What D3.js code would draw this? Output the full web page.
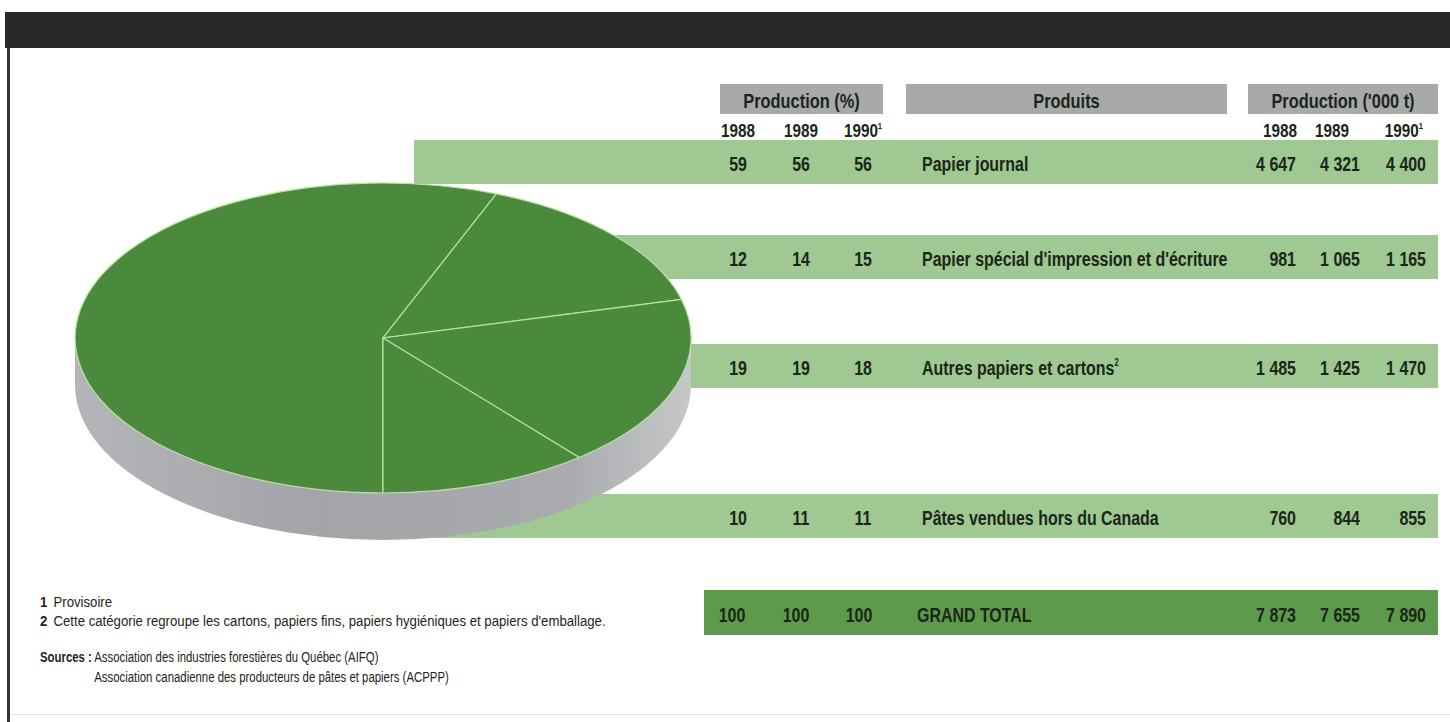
<!DOCTYPE html>
<html><head><meta charset="utf-8">
<script src="https://cdn.jsdelivr.net/npm/d3@7"></script>
<style>
html,body{margin:0;padding:0;background:#fff;}
svg{display:block;}
text{font-family:"Liberation Sans","Arial",sans-serif;}
</style></head>
<body>
<svg id="chart" width="1450" height="722"></svg>
<script>
// ---------- data ----------
const products = ["Papier journal", "Papier spécial d'impression et d'écriture", "Autres papiers et cartons", "Pâtes vendues hors du Canada"];
const productNotes = ["", "", "2", ""];
const years = ["1988", "1989", "1990"];
const yearNotes = ["", "", "1"];
const pct1988 = [59, 12, 19, 10];
const pct1989 = [56, 14, 19, 11];
const pct1990 = [56, 15, 18, 11];
const prod1988 = [4647, 981, 1485, 760];
const prod1989 = [4321, 1065, 1425, 844];
const prod1990 = [4400, 1165, 1470, 855];
const totalLabel = "GRAND TOTAL";
const totalPct = [100, 100, 100];
const totalProd = [7873, 7655, 7890];
const headers = ["Production (%)", "Produits", "Production ('000 t)"];
const footnotes = [["1", "Provisoire"], ["2", "Cette catégorie regroupe les cartons, papiers fins, papiers hygiéniques et papiers d'emballage."]];
const sourcesLabel = "Sources :";
const sources = ["Association des industries forestières du Québec (AIFQ)", "Association canadienne des producteurs de pâtes et papiers (ACPPP)"];

// ---------- layout ----------
const svg = d3.select("#chart");
const ink = "#1b2619";
const fr = d3.formatLocale({decimal: ",", thousands: " ", grouping: [3], currency: ["", ""]});
const fmt = v => fr.format(",d")(v);

const rowTops = [140, 235, 344, 494];
const rowH = 44;
const totalTop = 590, totalH = 45;
const barX0 = 414, barX1 = 1438, totalX0 = 704;
const pctX = [738, 801, 863];
const totalPctX = [732, 796, 859];
const prodRightX = [1296, 1360, 1426];
const yearProdRightX = [1297, 1349, 1418];
const prodX = 922;

// condensed text helper (horizontal squeeze of a regular face)
function txt(parent, x, y, str, o) {
  o = o || {};
  return parent.append("text")
    .attr("transform", `translate(${x},${y}) scale(${o.sx || 1},1)`)
    .attr("text-anchor", o.anchor || "start")
    .attr("font-size", o.size || 14)
    .attr("font-weight", o.weight || "normal")
    .attr("fill", o.fill || ink)
    .text(str);
}

// frame
svg.append("rect").attr("x", 5).attr("y", 12).attr("width", 1445).attr("height", 36).attr("fill", "#282828");
svg.append("rect").attr("x", 7).attr("y", 48).attr("width", 3).attr("height", 674).attr("fill", "#333");
svg.append("rect").attr("x", 10).attr("y", 714).attr("width", 1440).attr("height", 1).attr("fill", "#e4e4e4");

// header boxes
const hdr = [[720, 883], [906, 1227], [1248, 1438]];
hdr.forEach((h, i) => {
  svg.append("rect").attr("x", h[0]).attr("y", 84).attr("width", h[1] - h[0]).attr("height", 30).attr("fill", "#a8a9ab");
  txt(svg, (h[0] + h[1]) / 2, 108, headers[i], {anchor: "middle", size: 20, weight: "bold", sx: 0.82});
});

// year labels
years.forEach((y, i) => {
  const t = txt(svg, pctX[i], 137, y, {anchor: "middle", size: 18, weight: "bold", sx: 0.85});
  if (yearNotes[i]) t.append("tspan").attr("font-size", 9).attr("dy", -8).text(yearNotes[i]);
});
years.forEach((y, i) => {
  const t = txt(svg, yearProdRightX[i] + (yearNotes[i] ? 5 : 0), 137, y, {anchor: "end", size: 18, weight: "bold", sx: 0.85});
  if (yearNotes[i]) t.append("tspan").attr("font-size", 9).attr("dy", -8).text(yearNotes[i]);
});

// ---------- rows ----------
const pctSeries = [pct1988, pct1989, pct1990];
const prodSeries = [prod1988, prod1989, prod1990];
const rowFont = {size: 21, weight: "bold", sx: 0.76};
products.forEach((p, r) => {
  const y0 = rowTops[r];
  svg.append("rect").attr("x", barX0).attr("y", y0).attr("width", barX1 - barX0).attr("height", rowH).attr("fill", "#9fc892");
  const ty = y0 + 31;
  pctSeries.forEach((s, j) => txt(svg, pctX[j], ty, s[r], Object.assign({anchor: "middle"}, rowFont)));
  const t = txt(svg, prodX, ty, p, rowFont);
  if (productNotes[r]) t.append("tspan").attr("font-size", 10).attr("dy", -9).text(productNotes[r]);
  prodSeries.forEach((s, j) => txt(svg, prodRightX[j], ty, fmt(s[r]), Object.assign({anchor: "end"}, rowFont)));
});
// total row
svg.append("rect").attr("x", totalX0).attr("y", totalTop).attr("width", barX1 - totalX0).attr("height", totalH).attr("fill", "#5e9a4c");
{
  const ty = totalTop + 32;
  totalPct.forEach((v, j) => txt(svg, totalPctX[j], ty, v, Object.assign({anchor: "middle"}, rowFont)));
  txt(svg, prodX - 5, ty, totalLabel, rowFont);
  totalProd.forEach((v, j) => txt(svg, prodRightX[j], ty, fmt(v), Object.assign({anchor: "end"}, rowFont)));
}

// ---------- 3D pie (1990 shares) ----------
const cx = 383, cy = 338, rx = 308, ry = 155, depth = 47;
const defs = svg.append("defs");
const g1 = defs.append("linearGradient").attr("id", "side").attr("x1", "0").attr("x2", "1").attr("y1", "0").attr("y2", "0");
g1.append("stop").attr("offset", "0%").attr("stop-color", "#b3b5b8");
g1.append("stop").attr("offset", "40%").attr("stop-color", "#a2a4a7");
g1.append("stop").attr("offset", "80%").attr("stop-color", "#a9abae");
g1.append("stop").attr("offset", "100%").attr("stop-color", "#c6c7c9");

const pieG = svg.append("g").attr("transform", `translate(${cx},${cy})`);
const sideD = `M${-rx},0 L${-rx},${depth} A${rx},${ry} 0 0 0 ${rx},${depth} L${rx},0 A${rx},${ry} 0 0 1 ${-rx},0 Z`;
pieG.append("path").attr("d", sideD).attr("fill", "url(#side)");

const pieLayout = d3.pie().sort(null).startAngle(Math.PI).endAngle(3 * Math.PI);
const slices = pieLayout(pct1990);
const arcGen = d3.arc().innerRadius(0).outerRadius(1);
const faceG = pieG.append("g").attr("transform", `scale(${rx},${ry})`);
faceG.selectAll("path").data(slices).join("path")
  .attr("d", arcGen).attr("fill", "#4b8a3c")
  .attr("stroke", "#b9e0a3").attr("stroke-width", 1.2).attr("vector-effect", "non-scaling-stroke");

// ---------- footnotes ----------
const noteFont = {size: 15, sx: 0.88};
footnotes.forEach((f, i) => {
  const t = txt(svg, 40, 607 + i * 19, "", noteFont);
  t.append("tspan").attr("font-weight", "bold").text(f[0]);
  t.append("tspan").attr("dx", 7).text(f[1]);
});
const srcFont = {size: 15, sx: 0.76};
const src = txt(svg, 40, 662, "", srcFont);
const lbl = src.append("tspan").attr("font-weight", "bold").text(sourcesLabel);
src.append("tspan").attr("dx", 3).text(sources[0]);
const indent = (lbl.node().getComputedTextLength() + 3) * srcFont.sx;
txt(svg, 40 + indent, 682, sources[1], srcFont);
</script>
</body></html>
